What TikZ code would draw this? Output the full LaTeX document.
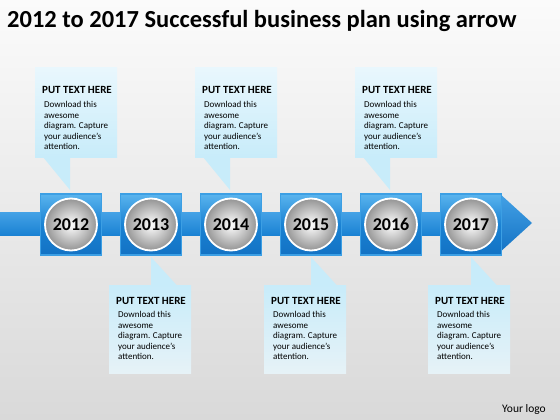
\documentclass[tikz,border=0pt]{standalone}
\usepackage{fontspec}
\setmainfont{Carlito}
\definecolor{bgtop}{HTML}{FBFBFB}
\definecolor{bgbot}{HTML}{D9D9D9}
\definecolor{barblue}{HTML}{1A82D3}
\definecolor{barlight}{HTML}{45A2E6}
\definecolor{sqtop}{HTML}{5AB4EE}
\definecolor{sqbot}{HTML}{1372C4}
\definecolor{sqedge}{HTML}{3C9FE4}
\definecolor{calA}{HTML}{E9F7FD}
\definecolor{calB}{HTML}{C8ECFA}
\definecolor{calC}{HTML}{E6F2F7}
\begin{document}
\begin{tikzpicture}[x=1pt,y=-1pt,
  sq/.style={rectangle, minimum width=61pt, minimum height=61pt, inner sep=0pt,
    top color=sqtop, bottom color=sqbot, middle color=barblue, draw=sqedge, line width=1.2pt},
  yr/.style={circle, minimum size=52pt, inner sep=0pt, draw=white, line width=1.8pt,
    inner color=white, outer color=black!42,
    font=\bfseries\fontsize{18}{18}\selectfont},
  topbox/.style={rectangle, anchor=north west, minimum width=82pt, minimum height=90pt,
    inner sep=0pt, top color=calA, bottom color=calB},
  botbox/.style={rectangle, anchor=north west, minimum width=82pt, minimum height=88pt,
    inner sep=0pt, top color=calB, bottom color=calC},
  head/.style={anchor=base west, inner sep=0pt, font=\bfseries\fontsize{11}{12}\selectfont},
  body/.style={anchor=north west, inner sep=0pt, align=left, font=\fontsize{9}{10.5}\selectfont}
]
\useasboundingbox (0,0) rectangle (560,420);
\shade[top color=bgtop, bottom color=bgbot] (0,0) rectangle (560,420);

% title
\node[anchor=base west, inner sep=0pt, font=\bfseries\fontsize{24.5}{28}\selectfont] (title) at (7,28)
  {2012 to 2017 Successful business plan using arrow};

% callout boxes (top)
\foreach \bx/\tx/\nm in {35/70/a, 195/230/b, 355/390/c}{
  \node[topbox] (box\nm) at (\bx,67) {};
  \fill[calB] (\bx+8,157) -- (\tx,157) -- (\tx,190) -- cycle;
  \node[head] (h\nm) at (\bx+7,94) {PUT TEXT HERE};
  \node[body] (t\nm) at (\bx+9,101.5) {Download this\\awesome\\diagram. Capture\\your audience's\\attention.};
}
% callout boxes (bottom)
\foreach \bx/\tx/\nm in {109/151/d, 264/311/e, 428/471/f}{
  \node[botbox] (box\nm) at (\bx,285) {};
  \fill[calB] (\tx,257) -- (\tx,285.5) -- (\tx+26,285.5) -- cycle;
  \node[head] (h\nm) at (\bx+7,304) {PUT TEXT HERE};
  \node[body] (t\nm) at (\bx+9,311.5) {Download this\\awesome\\diagram. Capture\\your audience's\\attention.};
}

% arrow bar
\shade[top color=barlight, bottom color=barblue] (0,212) rectangle (500,235);
\shade[top color=barlight, bottom color=sqbot] (499,193) -- (532,223) -- (499,253) -- cycle;

% year squares and circles
\foreach \yv [count=\i from 0] in {2012,2013,2014,2015,2016,2017}{
  \node[sq] (s\yv) at (71+80*\i,224.5) {};
  \node[yr] (c\yv) at (s\yv.center) {\yv};
}

\node[anchor=base east, inner sep=0pt, font=\fontsize{11.5}{12}\selectfont] (logo) at (546,412) {Your logo};
\end{tikzpicture}
\end{document}
